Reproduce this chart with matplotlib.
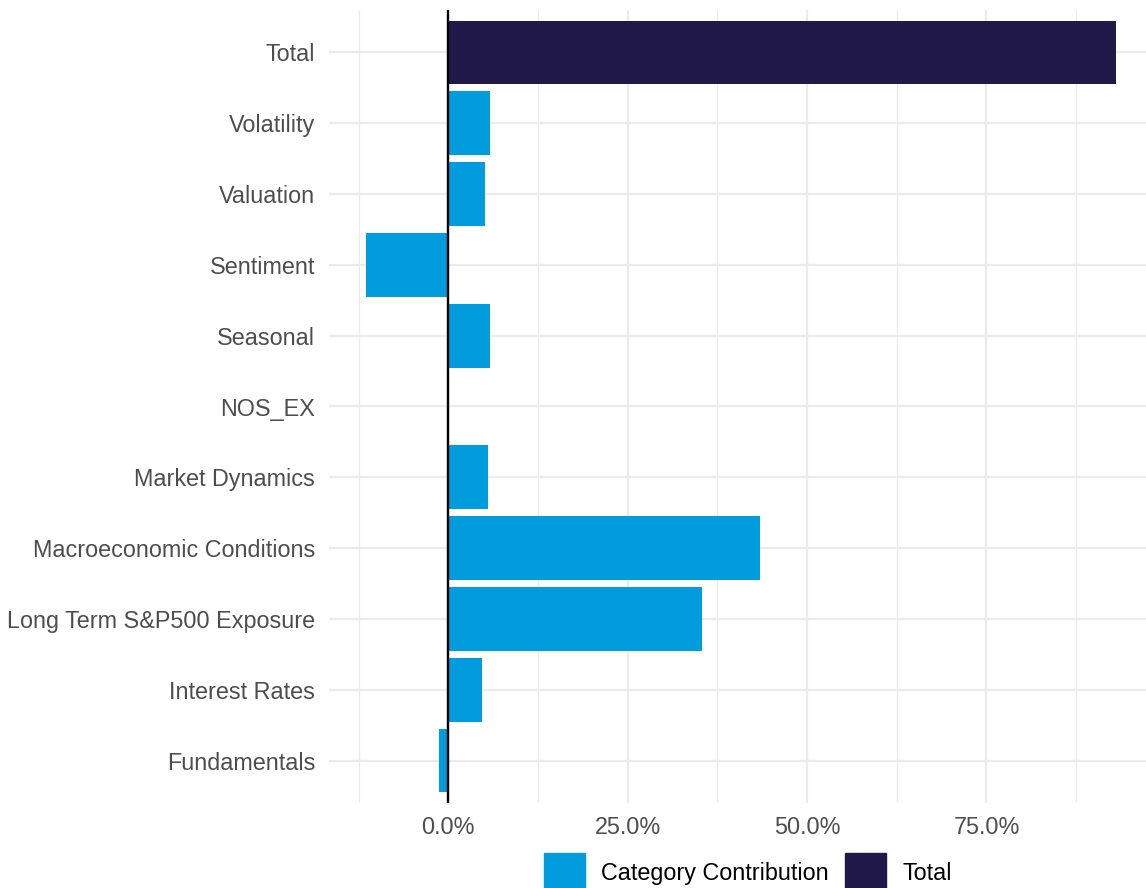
import matplotlib
matplotlib.use("Agg")
import matplotlib.pyplot as plt
from matplotlib.patches import Patch
from matplotlib.ticker import FixedLocator, FuncFormatter

categories = ["Fundamentals", "Interest Rates", "Long Term S&P500 Exposure",
              "Macroeconomic Conditions", "Market Dynamics", "NOS_EX",
              "Seasonal", "Sentiment", "Valuation", "Volatility", "Total"]
values = [-1.3, 4.65, 35.3, 43.44, 5.53, 0.0, 5.81, -11.47, 5.11, 5.81, 93.05]
kinds = ["Category Contribution"] * 10 + ["Total"]
colors_map = {"Category Contribution": "#009CDE", "Total": "#21184A"}
xticks = [0, 25, 50, 75]
minor_xticks = [-12.5, 12.5, 37.5, 62.5, 87.5]

plt.rcParams['font.family'] = ['Liberation Sans', 'DejaVu Sans']

W, H, DPI = 1146, 888, 100
FS = 16.8
fig = plt.figure(figsize=(W / DPI, H / DPI), dpi=DPI)
ax = fig.add_axes([329 / W, 1 - 803 / H, (W - 329) / W, (803 - 10) / H])

ypos = list(range(len(categories)))
ax.barh(ypos, values, height=0.9, color=[colors_map[k] for k in kinds], zorder=2)
ax.axvline(0, color="black", lw=1.7, zorder=3)

ax.set_xlim(-16.62, 97.23)
ax.set_ylim(-0.6, len(categories) - 0.4)
ax.set_yticks(ypos)
ax.set_yticklabels(categories)
ax.xaxis.set_major_locator(FixedLocator(xticks))
ax.xaxis.set_minor_locator(FixedLocator(minor_xticks))
ax.xaxis.set_major_formatter(FuncFormatter(lambda v, p: f"{v:.1f}%"))

ax.grid(True, which="major", axis="both", color="#EBEBEB", lw=1.6, zorder=0)
ax.grid(True, which="minor", axis="x", color="#EBEBEB", lw=0.9, zorder=0)
ax.set_axisbelow(True)
for s in ax.spines.values():
    s.set_visible(False)
ax.tick_params(axis="both", which="both", length=0, labelsize=FS, colors="#4D4D4D")
ax.tick_params(axis="y", pad=10)
ax.tick_params(axis="x", pad=9)

handles = [Patch(color=colors_map["Category Contribution"]), Patch(color=colors_map["Total"])]
fig.legend(handles, ["Category Contribution", "Total"], loc="center",
           bbox_to_anchor=(748 / W, 1 - 873 / H), ncol=2, frameon=False,
           fontsize=FS, handlelength=1.75, handleheight=2.3,
           handletextpad=0.7, columnspacing=0.72, borderpad=0, borderaxespad=0)

fig.savefig("out.png", dpi=DPI)
